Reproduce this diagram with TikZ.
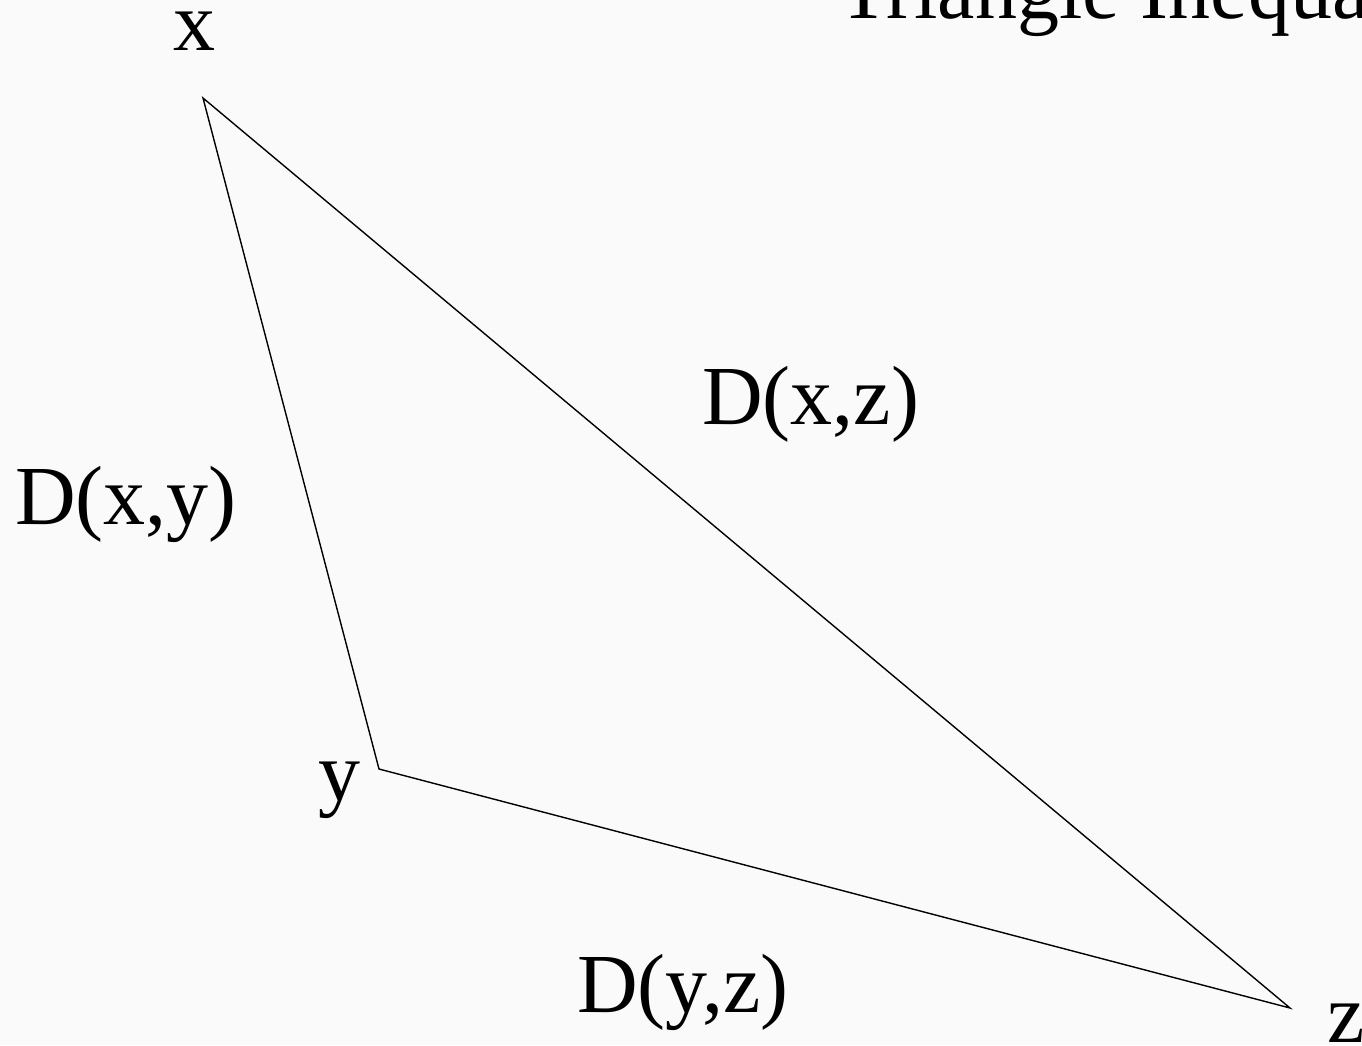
\documentclass[tikz,border=0pt]{standalone}
\usepackage{fontspec}
\setmainfont{Liberation Serif}
\begin{document}
\begin{tikzpicture}[x=1pt,y=-1pt,
  lbl/.style={font=\fontsize{84}{100}\selectfont, inner sep=0pt, anchor=base west},
  edge/.style={line width=1.4pt, line join=miter}]
\useasboundingbox (0,0) rectangle (1362,1045);
\clip (0,0) rectangle (1362,1045);
\fill[black!2] (0,0) rectangle (1362,1045);
\coordinate (vx) at (203,98);
\coordinate (vy) at (379,769);
\coordinate (vz) at (1290,1008);
\draw[edge] (vx) -- (vy) -- (vz) -- cycle;
\node[lbl] (title) at (838,18) {Triangle Inequality};
\node[lbl] (lx) at (173,50) {x};
\node[lbl] (ly) at (318,800) {y};
\node[lbl] (lz) at (1327,1042) {z};
\node[lbl] (dxy) at (15,524) {D(x,y)};
\node[lbl] (dxz) at (702,424) {D(x,z)};
\node[lbl] (dyz) at (577,1012) {D(y,z)};
\end{tikzpicture}
\end{document}
